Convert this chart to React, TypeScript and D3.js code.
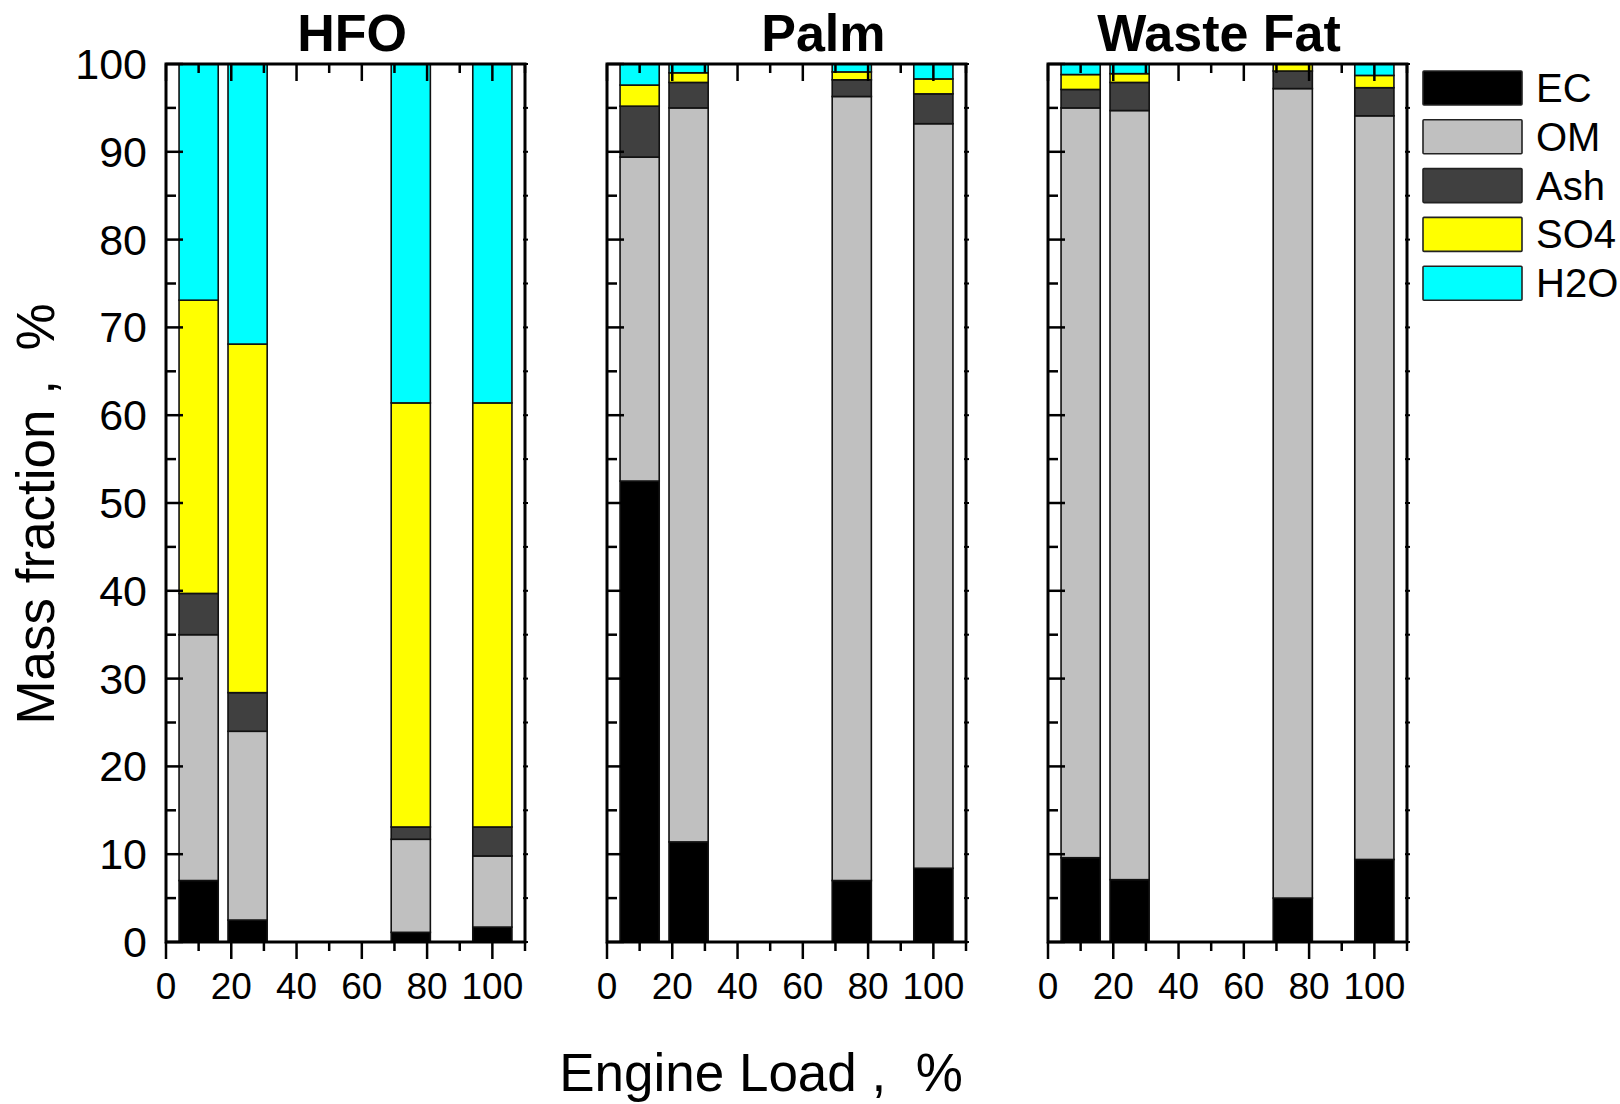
import React from "react";
import * as d3 from "d3";

// engine load (%) of each bar
const loads = [10, 25, 75, 100];
const components = ["EC", "OM", "Ash", "SO4", "H2O"];
const colors = ["#000000", "#c0c0c0", "#404040", "#ffff00", "#00ffff"];

const hfoEC = [7.0, 2.5, 1.1, 1.7];
const hfoOM = [28.0, 21.5, 10.6, 8.1];
const hfoAsh = [4.7, 4.4, 1.4, 3.3];
const hfoSO4 = [33.4, 39.7, 48.3, 48.3];
const hfoH2O = [26.9, 31.9, 38.6, 38.6];

const palmEC = [52.5, 11.4, 7.0, 8.4];
const palmOM = [36.9, 83.6, 89.3, 84.8];
const palmAsh = [5.8, 2.9, 1.9, 3.4];
const palmSO4 = [2.4, 1.1, 0.9, 1.7];
const palmH2O = [2.4, 1.0, 0.9, 1.7];

const wasteEC = [9.6, 7.1, 5.0, 9.4];
const wasteOM = [85.4, 87.6, 92.2, 84.7];
const wasteAsh = [2.1, 3.2, 2.0, 3.2];
const wasteSO4 = [1.7, 1.0, 0.8, 1.4];
const wasteH2O = [1.2, 1.1, 0.0, 1.3];

const yTicks = [0, 10, 20, 30, 40, 50, 60, 70, 80, 90, 100];
const xTicks = [0, 20, 40, 60, 80, 100];

const panels = [
  { title: "HFO", titleAt: 57, series: [hfoEC, hfoOM, hfoAsh, hfoSO4, hfoH2O] },
  { title: "Palm", titleAt: 66.3, series: [palmEC, palmOM, palmAsh, palmSO4, palmH2O] },
  { title: "Waste Fat", titleAt: 52.4, series: [wasteEC, wasteOM, wasteAsh, wasteSO4, wasteH2O] },
];

const FONT = "'Liberation Sans', Arial, Helvetica, sans-serif";
const panelLefts = [166, 607, 1048];
const panelW = 359;
const top = 64;
const bottom = 942;
const barW = 12;

function Panel({ panel, left, showY }) {
  const x = d3.scaleLinear().domain([0, 110]).range([left, left + panelW]);
  const y = d3.scaleLinear().domain([0, 100]).range([bottom, top]);

  const rows = loads.map((load, i) => {
    const r = { load };
    components.forEach((c, k) => (r[c] = panel.series[k][i]));
    return r;
  });
  const stacked = d3.stack().keys(components)(rows);

  const minorY = d3.range(0, 101, 5);
  const minorX = d3.range(0, 111, 10);

  return (
    <g>
      {stacked.map((layer, k) => (
        <g key={layer.key}>
          {layer.map((d, i) =>
            d[1] - d[0] > 0 ? (
              <rect
                key={i}
                x={x(d.data.load - barW / 2)}
                width={x(barW) - x(0)}
                y={y(d[1])}
                height={y(d[0]) - y(d[1])}
                fill={colors[k]}
                stroke="#111"
                strokeWidth={1.6}
              />
            ) : null
          )}
        </g>
      ))}

      {/* left axis ticks, inward */}
      {minorY.map((v) => (
        <line key={"l" + v} x1={x(0)} x2={x(0) + (v % 10 === 0 ? 17 : 10)} y1={y(v)} y2={y(v)} stroke="#000" strokeWidth={2.5} />
      ))}
      {/* right axis small ticks */}
      {minorY.map((v) => (
        <line key={"r" + v} x1={x(110) - 2} x2={x(110) + 3} y1={y(v)} y2={y(v)} stroke="#000" strokeWidth={2} />
      ))}
      {/* top ticks inward, bottom ticks outward */}
      {minorX.map((v) => {
        const len = v % 20 === 0 ? 17 : 9;
        return (
          <g key={"t" + v}>
            <line x1={x(v)} x2={x(v)} y1={y(100)} y2={y(100) + len} stroke="#000" strokeWidth={2.5} />
            <line x1={x(v)} x2={x(v)} y1={y(0)} y2={y(0) + len} stroke="#000" strokeWidth={2.5} />
          </g>
        );
      })}
      <rect x={x(0)} y={y(100)} width={x(110) - x(0)} height={y(0) - y(100)} fill="none" stroke="#000" strokeWidth={3} />

      {xTicks.map((v) => (
        <text key={"xl" + v} x={x(v)} y={999} textAnchor="middle" fontSize={37} fontFamily={FONT}>
          {v}
        </text>
      ))}
      {showY &&
        yTicks.map((v) => (
          <text key={"yl" + v} x={x(0) - 19} y={y(v) + 15} textAnchor="end" fontSize={43} fontFamily={FONT}>
            {v}
          </text>
        ))}
      <text x={x(panel.titleAt)} y={51} textAnchor="middle" fontSize={52} fontWeight="bold" fontFamily={FONT}>
        {panel.title}
      </text>
    </g>
  );
}

export default function App() {
  const legendY = d3.scaleBand().domain(components).range([71, 315]);
  return (
    <svg width={1620} height={1104} style={{ position: "absolute", left: 0, top: 0, background: "#fff" }}>
      <rect width={1620} height={1104} fill="#fff" />
      {panels.map((p, i) => (
        <Panel key={p.title} panel={p} left={panelLefts[i]} showY={i === 0} />
      ))}

      {components.map((c, k) => (
        <g key={c}>
          <rect x={1423} y={legendY(c)} width={99} height={34} fill={colors[k]} stroke="#222" strokeWidth={1.6} rx={1} />
          <text x={1536} y={legendY(c) + 31} fontSize={40} fontFamily={FONT}>
            {c}
          </text>
        </g>
      ))}

      <text x={761} y={1091} textAnchor="middle" fontSize={53} fontFamily={FONT} style={{ whiteSpace: "pre" }}>
        {"Engine Load ,  %"}
      </text>
      <text
        transform="translate(54,514) rotate(-90)"
        textAnchor="middle"
        fontSize={53}
        fontFamily={FONT}
        style={{ whiteSpace: "pre" }}
      >
        {"Mass fraction ,  %"}
      </text>
    </svg>
  );
}
